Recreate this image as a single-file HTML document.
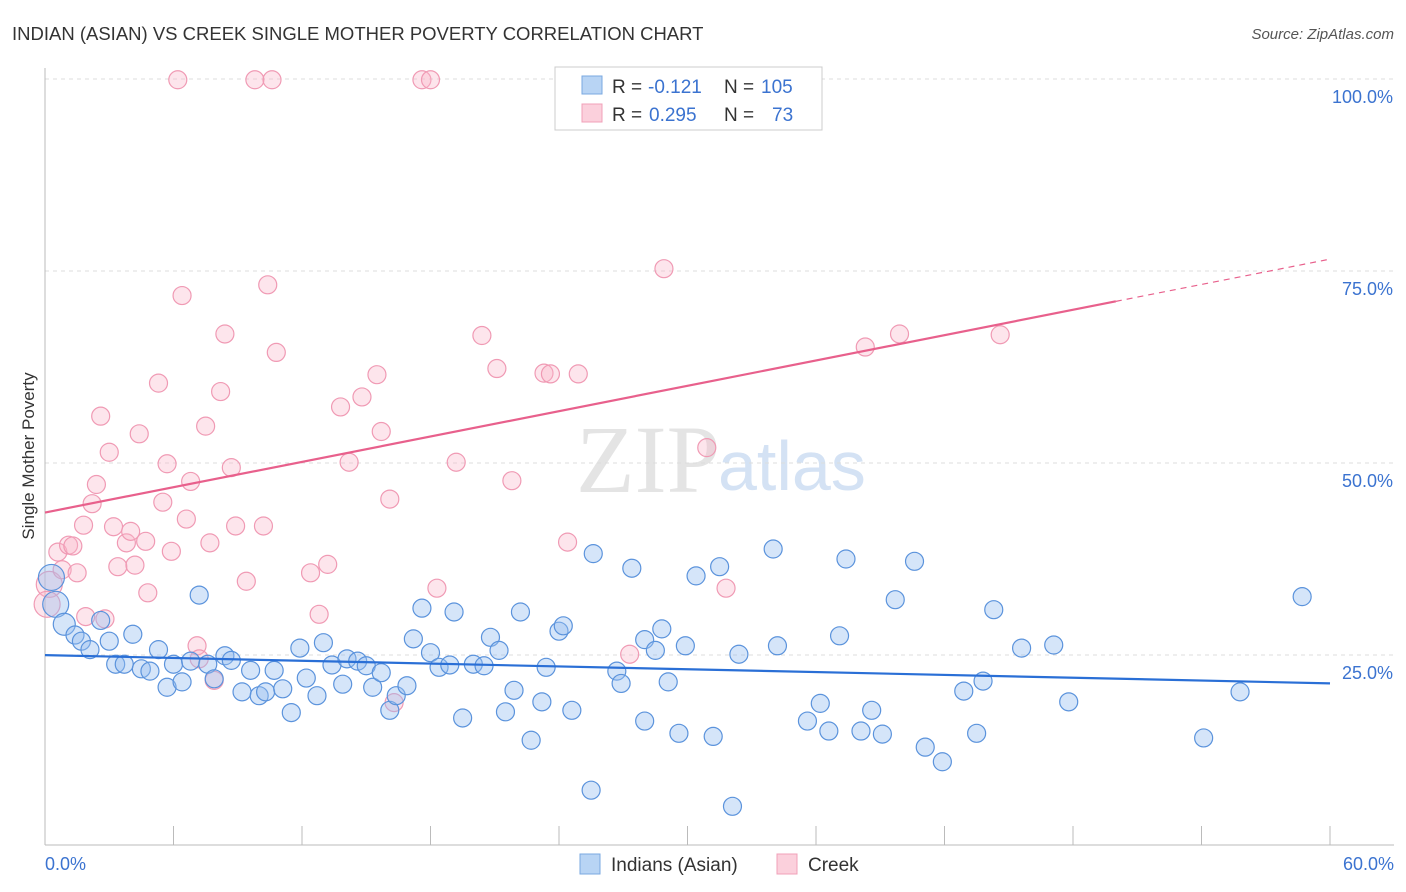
<!DOCTYPE html>
<html><head><meta charset="utf-8"><style>
body{margin:0;background:#fff;font-family:"Liberation Sans",sans-serif;}
</style></head><body>
<svg width="1406" height="892" id="c" style="display:block">
<text x="12" y="40" font-size="18.5" fill="#333">INDIAN (ASIAN) VS CREEK SINGLE MOTHER POVERTY CORRELATION CHART</text>
<text x="1394" y="39" font-size="15" fill="#555" text-anchor="end" font-style="italic">Source: ZipAtlas.com</text>
<text x="720" y="492" font-size="96" fill="#e4e4e4" text-anchor="end" font-family="Liberation Serif">ZIP</text>
<text x="718" y="490" font-size="70" fill="#d4e2f4">atlas</text>
<g id="grid"></g><g id="axes"></g><g id="marks"></g>
<text transform="translate(34,456) rotate(-90)" font-size="17" fill="#333" text-anchor="middle">Single Mother Poverty</text>
<g>
<rect x="555" y="67" width="267" height="63" fill="#fff" stroke="#ccc"/>
<rect x="582" y="76" width="20" height="18" fill="#b8d4f4" stroke="#7aa8e0"/>
<rect x="582" y="104" width="20" height="18" fill="#fbd0dc" stroke="#f0a0b8"/>
<text x="612" y="93" font-size="19" fill="#333">R =</text>
<text x="648" y="93" font-size="19" fill="#3b73d0">-0.121</text>
<text x="724" y="93" font-size="19" fill="#333">N =</text>
<text x="761" y="93" font-size="19" fill="#3b73d0">105</text>
<text x="612" y="121" font-size="19" fill="#333">R =</text>
<text x="649" y="121" font-size="19" fill="#3b73d0">0.295</text>
<text x="724" y="121" font-size="19" fill="#333">N =</text>
<text x="772" y="121" font-size="19" fill="#3b73d0">73</text>
</g>
<g>
<rect x="580" y="854" width="20" height="20" fill="#b8d4f4" stroke="#7aa8e0"/>
<text x="611" y="871" font-size="19" fill="#333">Indians (Asian)</text>
<rect x="777" y="854" width="20" height="20" fill="#fbd0dc" stroke="#f0a0b8"/>
<text x="808" y="871" font-size="19" fill="#333">Creek</text>
</g>
</svg>
<script>
const blueX=[0.3,0.5,0.9,1.4,1.7,2.1,2.6,3.0,3.3,3.7,4.1,4.5,4.9,5.3,5.7,6.0,6.4,6.8,7.2,7.6,7.9,8.4,8.7,9.2,9.6,10.0,10.3,10.7,11.1,11.5,11.9,12.2,12.7,13.0,13.4,13.9,14.1,14.6,15.0,15.3,15.7,16.1,16.4,16.9,17.2,17.6,18.0,18.4,18.9,19.1,19.5,20.0,20.5,20.8,21.2,21.5,21.9,22.2,22.7,23.2,23.4,24.0,24.2,24.6,25.5,25.6,26.7,26.9,27.4,28.0,28.0,28.5,28.8,29.1,29.6,29.9,30.4,31.2,31.5,32.1,32.4,34.0,34.2,35.6,36.2,36.6,37.1,37.4,38.1,38.6,39.1,39.7,40.6,41.1,41.9,42.9,43.5,43.8,44.3,45.6,47.1,47.8,54.1,55.8,58.7];
const blueY=[35.1,31.6,29.0,27.6,26.8,25.7,29.5,26.8,23.8,23.8,27.7,23.2,22.9,25.7,20.8,23.8,21.5,24.2,32.8,23.8,21.9,24.9,24.3,20.2,23.0,19.7,20.2,23.0,20.6,17.5,25.9,22.0,19.7,26.6,23.7,21.2,24.5,24.2,23.6,20.8,22.7,17.8,19.7,21.0,27.1,31.1,25.3,23.4,23.7,30.6,16.8,23.8,23.6,27.3,25.6,17.6,20.4,30.6,13.9,18.9,23.4,28.1,28.8,17.8,7.4,38.2,22.9,21.3,36.3,16.4,27.0,25.6,28.4,21.5,14.8,26.2,35.3,14.4,36.5,5.3,25.1,38.8,26.2,16.4,18.7,15.1,27.5,37.5,15.1,17.8,14.7,32.2,37.2,13.0,11.1,20.3,14.8,21.6,30.9,25.9,26.3,18.9,14.2,20.2,32.6];
const pinkX=[0.2,0.1,0.6,0.8,1.1,1.3,1.5,1.8,1.9,2.2,2.4,2.6,2.8,3.0,3.2,3.4,3.8,4.0,4.2,4.4,4.7,4.8,5.3,5.5,5.7,5.9,6.2,6.4,6.6,6.8,7.1,7.2,7.5,7.7,7.9,8.2,8.4,8.7,8.9,9.4,9.8,10.2,10.4,10.6,10.8,12.4,12.8,13.2,13.8,14.2,14.8,15.5,15.7,16.1,16.3,17.6,18.0,18.3,19.2,20.4,21.1,21.8,23.3,23.6,24.4,24.9,27.3,28.9,30.9,31.8,38.3,39.9,44.6];
const pinkY=[34.2,31.6,38.4,36.1,39.3,39.2,35.7,41.9,30.0,44.7,47.2,56.1,29.7,51.4,41.7,36.5,39.6,41.1,36.7,53.8,39.8,33.1,60.4,44.9,49.9,38.5,99.9,71.8,42.7,47.6,26.2,24.5,54.8,39.6,21.7,59.3,66.8,49.4,41.8,34.6,99.9,41.8,73.2,99.9,64.4,35.7,30.3,36.8,57.3,50.1,58.6,61.5,54.1,45.3,18.8,99.9,99.9,33.7,50.1,66.6,62.3,47.7,61.7,61.6,39.7,61.6,25.1,75.3,52.0,33.7,65.1,66.8,66.7];
const blueSize=[13,13,11].concat(Array(102).fill(9));
const pinkSize=[13,13].concat(Array(71).fill(9));
const X=v=>45+v/60*1285, Y=v=>847-v/100*768;
const NS="http://www.w3.org/2000/svg";
function mk(t,a,p){const e=document.createElementNS(NS,t);for(const k in a)e.setAttribute(k,a[k]);p.appendChild(e);return e;}
const grid=document.getElementById('grid'),axes=document.getElementById('axes'),marks=document.getElementById('marks');
const yTicks=[25,50,75,100],yLabels=["25.0%","50.0%","75.0%","100.0%"];
yTicks.forEach((t,i)=>{
 const l=mk('line',{x1:45,x2:1394,y1:Y(t),y2:Y(t),stroke:'#ddd','stroke-dasharray':'4,4'},grid);
 
 
 const tx=mk('text',{x:1393,y:Y(t)+24,'font-size':18,fill:'#3b73d0','text-anchor':'end'},axes);tx.textContent=yLabels[i];
 
 
});
const ax=mk('line',{x1:45,x2:1394,y1:845,y2:845,stroke:'#bbb'},axes);


const ay=mk('line',{x1:45,x2:45,y1:68,y2:845,stroke:'#bbb'},axes);


for(let i=0;i<=10;i++){const l=mk('line',{x1:X(i*6),x2:X(i*6),y1:826,y2:845,stroke:'#bbb'},axes);
 
 }
const xl=["0.0%","60.0%"];
[[45,'start',xl[0]],[1394,'end',xl[1]]].forEach(a=>{const t=mk('text',{x:a[0],y:870,'font-size':18,fill:'#3b73d0','text-anchor':a[1]},axes);t.textContent=a[2];
 
 });
pinkX.forEach((v,i)=>{const c=mk('circle',{cx:X(v),cy:Y(pinkY[i]),r:pinkSize[i],fill:'rgba(248,180,200,0.35)',stroke:'#f09ab4','stroke-width':1.2},marks);
 
 });
blueX.forEach((v,i)=>{const c=mk('circle',{cx:X(v),cy:Y(blueY[i]),r:blueSize[i],fill:'rgba(150,190,240,0.4)',stroke:'#5b93dc','stroke-width':1.2},marks);
 
 });
function fit(xs,ys){const n=xs.length,mx=xs.reduce((a,b)=>a+b)/n,my=ys.reduce((a,b)=>a+b)/n;let sxy=0,sxx=0;xs.forEach((x,i)=>{sxy+=(x-mx)*(ys[i]-my);sxx+=(x-mx)**2;});const b=sxy/sxx;return [my-b*mx,b];}
const bf=fit(blueX,blueY),pf=fit(pinkX,pinkY);
const bl=mk('line',{x1:X(0),y1:Y(bf[0]),x2:X(60),y2:Y(bf[0]+bf[1]*60),stroke:'#2a6fd6','stroke-width':2.2},marks);


const pl=mk('line',{x1:X(0),y1:Y(pf[0]),x2:X(50),y2:Y(pf[0]+pf[1]*50),stroke:'#e8608c','stroke-width':2.2},marks);


const pd=mk('line',{x1:X(50),y1:Y(pf[0]+pf[1]*50),x2:X(60),y2:Y(pf[0]+pf[1]*60),stroke:'#e8608c','stroke-width':1.2,'stroke-dasharray':'6,5'},marks);


</script>
</body></html>
